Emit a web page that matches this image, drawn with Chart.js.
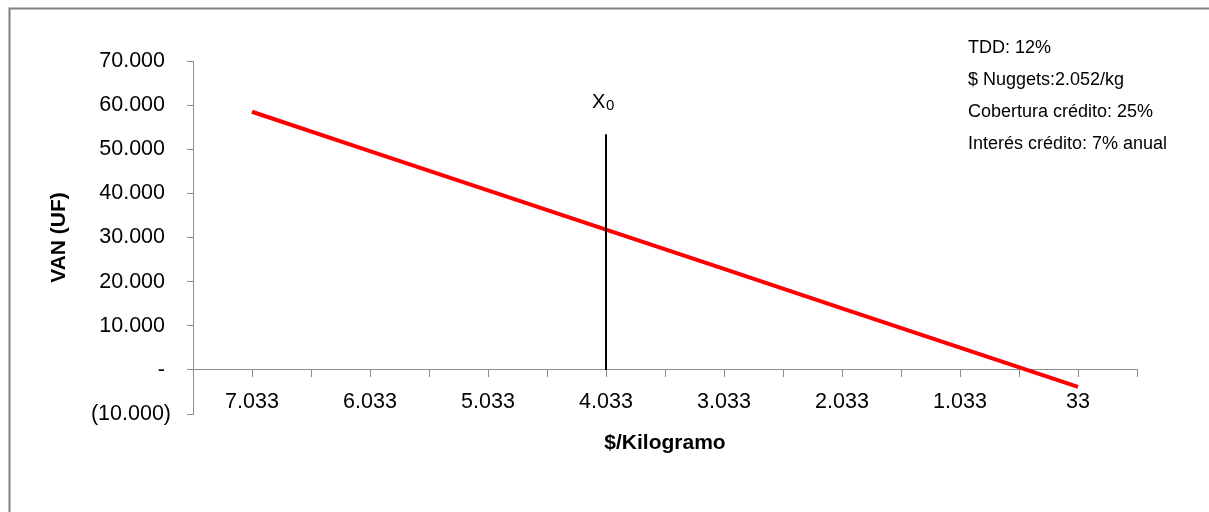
<!DOCTYPE html>
<html>
<head>
<meta charset="utf-8">
<script src="https://cdn.jsdelivr.net/npm/chart.js@4.4.1/dist/chart.umd.min.js"></script>
<style>
  html, body { margin: 0; padding: 0; background: #fff; }
  canvas { display: block; }
</style>
</head>
<body>
<canvas id="c" width="1209" height="512"></canvas>
<script>
// Precio por kilogramo (categorías del eje X)
const priceLabels = ['7.033', '6.033', '5.033', '4.033', '3.033', '2.033', '1.033', '33'];
// VAN en UF para cada precio
const vanValues = [58500, 49590, 40680, 31780, 22870, 13960, 5050, -3850];
// Línea vertical X0 (precio actual)
const x0Index = 3;
const x0LineRange = [0, 53400];
// Escala del eje Y
const yMin = -10000;
const yMax = 70000;
const yStep = 10000;
// Supuestos del escenario
const notes = ['TDD: 12%', '$ Nuggets:2.052/kg', 'Cobertura crédito: 25%', 'Interés crédito: 7% anual'];

const FONT = '"Liberation Sans", Arial, sans-serif';
const AXIS_GRAY = '#8c8c8c';

function fmtVan(v) {
  if (v === 0) return '- ';
  const s = Math.abs(v).toString().replace(/\B(?=(\d{3})+(?!\d))/g, '.');
  return v < 0 ? '(' + s + ')' : s + ' ';
}

const frameAndNotes = {
  id: 'frameAndNotes',
  afterDraw(chart) {
    const ctx = chart.ctx;
    ctx.save();
    // marco
    ctx.strokeStyle = '#808080';
    ctx.lineWidth = 2;
    ctx.beginPath();
    ctx.moveTo(9.5, 512);
    ctx.lineTo(9.5, 8.5);
    ctx.lineTo(1209, 8.5);
    ctx.stroke();

    // supuestos
    ctx.fillStyle = '#000';
    ctx.font = '18px ' + FONT;
    ctx.textAlign = 'left';
    ctx.textBaseline = 'middle';
    notes.forEach((t, i) => ctx.fillText(t, 968, 48 + i * 32));

    // etiqueta X0 sobre la línea vertical
    const xs = chart.scales.x, ys = chart.scales.y;
    const px = xs.getPixelForValue(x0Index);
    const py = ys.getPixelForValue(x0LineRange[1]);
    ctx.textBaseline = 'alphabetic';
    ctx.font = '20px ' + FONT;
    ctx.fillText('X', px - 14, py - 26);
    ctx.font = '15px ' + FONT;
    ctx.fillText('0', px, py - 24);
    ctx.restore();
  }
};

new Chart(document.getElementById('c'), {
  type: 'line',
  data: {
    datasets: [
      {
        label: 'X0',
        data: x0LineRange.map(v => ({ x: x0Index, y: v })),
        borderColor: '#000',
        borderWidth: 2,
        pointRadius: 0,
        order: 0
      },
      {
        label: 'VAN',
        data: vanValues.map((v, i) => ({ x: i, y: v })),
        borderColor: '#ff0000',
        borderWidth: 4,
        pointRadius: 0,
        tension: 0,
        order: 1
      }
    ]
  },
  options: {
    responsive: false,
    animation: false,
    layout: { padding: { top: 61, right: 72, bottom: 98, left: 0 } },
    plugins: { legend: { display: false }, tooltip: { enabled: false } },
    scales: {
      x: {
        type: 'linear',
        position: { y: 0 },
        min: -0.5,
        max: priceLabels.length - 0.5,
        afterFit(s) { s.height = 98; },
        afterBuildTicks(s) {
          const t = [];
          for (let k = 0; k <= priceLabels.length * 2; k++) t.push({ value: -0.5 + k * 0.5 });
          s.ticks = t;
        },
        ticks: {
          autoSkip: false,
          maxRotation: 0,
          minRotation: 0,
          padding: 12,
          color: '#000',
          font: { family: FONT, size: 21.5 },
          callback(v) {
            const i = Math.round(v);
            return Math.abs(v - i) < 1e-6 && priceLabels[i] !== undefined ? priceLabels[i] : '';
          }
        },
        grid: { drawOnChartArea: false, drawTicks: true, tickLength: 7, color: AXIS_GRAY },
        border: { display: true, color: AXIS_GRAY, width: 1 },
        title: {
          display: true,
          text: '$/Kilogramo',
          color: '#000',
          font: { family: FONT, size: 21, weight: 'bold' },
          padding: { top: 0, bottom: 12 }
        }
      },
      y: {
        min: yMin,
        max: yMax,
        afterFit(s) { s.width = 193; },
        ticks: {
          stepSize: yStep,
          padding: 16,
          color: '#000',
          font: { family: FONT, size: 21.5 },
          callback: fmtVan
        },
        grid: { drawOnChartArea: false, drawTicks: true, tickLength: 6, color: AXIS_GRAY },
        border: { display: true, color: AXIS_GRAY, width: 1 },
        title: {
          display: true,
          text: 'VAN (UF)',
          color: '#000',
          font: { family: FONT, size: 21, weight: 'bold' },
          padding: { top: 47, bottom: 0 }
        }
      }
    }
  },
  plugins: [frameAndNotes]
});
</script>
</body>
</html>
